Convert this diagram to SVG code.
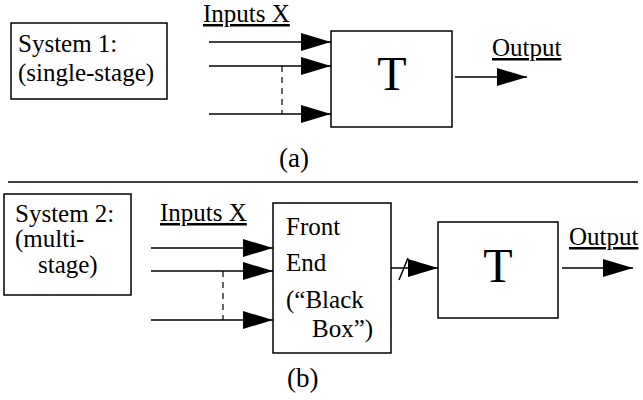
<svg xmlns="http://www.w3.org/2000/svg" width="643" height="400" viewBox="0 0 643 400">
  <style>
    .box { fill: #fff; stroke: #000; stroke-width: 1.5; }
    .wire { stroke: #000; stroke-width: 1.5; fill: none; }
    .dash { stroke: #000; stroke-width: 1.2; stroke-dasharray: 6 5; fill: none; }
    text { font-family: "Liberation Serif", "DejaVu Serif", serif; font-size: 25px; fill: #000; }
    .big { font-size: 48px; text-anchor: middle; }
    .cap { font-size: 27px; }
    .u { text-decoration: underline; }
  </style>
  <defs>
    <marker id="head" viewBox="0 0 30 18" refX="30" refY="9" markerWidth="30" markerHeight="18" markerUnits="userSpaceOnUse" orient="auto">
      <path d="M0,0 L30,9 L0,18 Z" fill="#000"/>
    </marker>
  </defs>

  <!-- (a) single-stage system -->
  <g id="sys1-label">
    <rect class="box" x="11" y="23" width="156" height="76"/>
    <text x="18" y="52" font-family="Liberation Serif, serif">System 1:</text>
    <text x="18" y="81" font-family="Liberation Serif, serif">(single-stage)</text>
  </g>
  <g id="inputs-a">
    <text class="u" x="203" y="22" font-family="Liberation Serif, serif">Inputs X</text>
  </g>
  <g id="T-a">
    <rect class="box" x="331" y="31" width="121" height="96"/>
    <text class="big" x="392" y="90" font-family="Liberation Serif, serif">T</text>
  </g>
  <g id="output-a">
    <text class="u" x="492" y="56" font-family="Liberation Serif, serif">Output</text>
  </g>
  <text id="caption-a" class="cap" x="279" y="167" font-family="Liberation Serif, serif">(a)</text>

  <!-- separator -->
  <line class="wire" x1="8" y1="182" x2="638" y2="182"/>

  <!-- (b) multi-stage system -->
  <g id="sys2-label">
    <rect class="box" x="4" y="194" width="127" height="101"/>
    <text x="15" y="222" font-family="Liberation Serif, serif">System 2:</text>
    <text x="15" y="247" font-family="Liberation Serif, serif">(multi-</text>
    <text x="38" y="273" font-family="Liberation Serif, serif">stage)</text>
  </g>
  <g id="inputs-b">
    <text class="u" x="160" y="221" font-family="Liberation Serif, serif">Inputs X</text>
  </g>
  <g id="front-end">
    <rect class="box" x="273" y="203" width="118" height="150"/>
    <text x="286" y="235" font-family="Liberation Serif, serif">Front</text>
    <text x="286" y="271" font-family="Liberation Serif, serif">End</text>
    <text x="286" y="308" font-family="Liberation Serif, serif">(“Black</text>
    <text x="312" y="337" font-family="Liberation Serif, serif">Box”)</text>
  </g>
  <g id="T-b">
    <rect class="box" x="438" y="222" width="120" height="96"/>
    <text class="big" x="498" y="282" font-family="Liberation Serif, serif">T</text>
  </g>
  <g id="output-b">
    <text class="u" x="569" y="245" font-family="Liberation Serif, serif">Output</text>
  </g>
  <text id="caption-b" class="cap" x="287" y="387" font-family="Liberation Serif, serif">(b)</text>

  <g id="connectors">
    <!-- (a) -->
    <line class="wire" x1="209" y1="42" x2="331" y2="42" marker-end="url(#head)"/>
    <line class="wire" x1="209" y1="66" x2="331" y2="66" marker-end="url(#head)"/>
    <line class="wire" x1="209" y1="114" x2="331" y2="114" marker-end="url(#head)"/>
    <line class="dash" x1="282" y1="66" x2="282" y2="114"/>
    <line class="wire" x1="455" y1="77" x2="527" y2="77" marker-end="url(#head)"/>
    <!-- (b) -->
    <line class="wire" x1="151" y1="248" x2="273" y2="248" marker-end="url(#head)"/>
    <line class="wire" x1="151" y1="271" x2="273" y2="271" marker-end="url(#head)"/>
    <line class="wire" x1="151" y1="320" x2="273" y2="320" marker-end="url(#head)"/>
    <line class="dash" x1="223" y1="271" x2="223" y2="320"/>
    <line class="wire" x1="391" y1="268" x2="438" y2="268" marker-end="url(#head)"/>
    <line class="wire" x1="399" y1="280" x2="408" y2="258"/>
    <line class="wire" x1="562" y1="268" x2="633" y2="268" marker-end="url(#head)"/>
  </g>
</svg>
